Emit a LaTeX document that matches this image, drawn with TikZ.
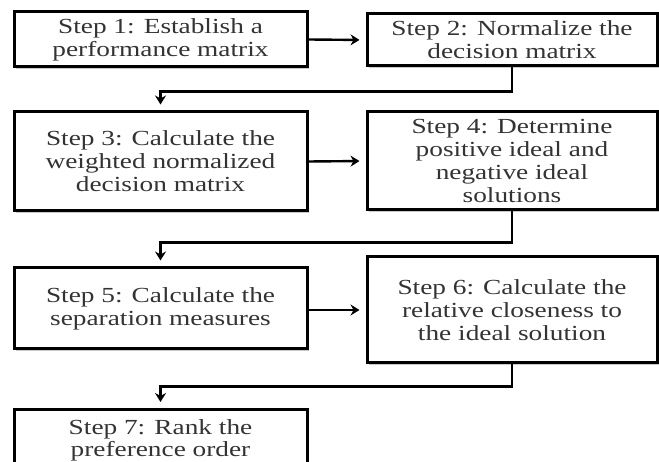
\documentclass[tikz,border=0pt]{standalone}
\usepackage{fontspec}
\setmainfont{Liberation Serif}[FakeStretch=1.27]
\usetikzlibrary{shadows,arrows.meta}
\begin{document}
\begin{tikzpicture}[x=1pt,y=-1pt,
  stepbox/.style={draw=black,line width=3pt,fill=white,align=center,
    text=black!80,font=\fontsize{21.5}{23}\selectfont,inner sep=0pt,
    drop shadow={shadow xshift=2pt,shadow yshift=-2.5pt,opacity=0.35,fill=black!60}},
  conn/.style={draw=black,line width=2.4pt,-{Stealth[length=9pt,width=11pt,inset=3pt]},shorten >=6pt}]
\useasboundingbox (0,0) rectangle (659,462);
\clip (0,0) rectangle (659,462);
\node[stepbox,minimum width=293pt,minimum height=55pt] (b1) at (160.5,39.5) {Step 1: Establish a\\performance matrix};
\node[stepbox,minimum width=290pt,minimum height=52pt] (b2) at (512,40) {Step 2: Normalize the\\decision matrix};
\node[stepbox,minimum width=293pt,minimum height=99pt] (b3) at (160.5,161.5) {Step 3: Calculate the\\weighted normalized\\decision matrix};
\node[stepbox,minimum width=290pt,minimum height=98pt] (b4) at (512,161) {Step 4: Determine\\positive ideal and\\negative ideal\\solutions};
\node[stepbox,minimum width=293pt,minimum height=81pt] (b5) at (160.5,308.5) {Step 5: Calculate the\\separation measures};
\node[stepbox,minimum width=290pt,minimum height=106pt] (b6) at (512,310) {Step 6: Calculate the\\relative closeness to\\the ideal solution};
\node[stepbox,minimum width=293pt,minimum height=64pt,anchor=north] (b7) at (160.5,408) {\raisebox{19pt}{\begin{tabular}{@{}c@{}}Step 7: Rank the\\[-1pt]preference order\end{tabular}}};
\draw[conn] (b1.east) -- (b2.west);
\draw[conn] (b3.east) -- (b4.west);
\draw[conn] (b5.east |- 0,310) -- (b6.west |- 0,310);
\draw[conn] (b2.south) -- ++(0,24) -| (b3.north);
\draw[conn] (b4.south) -- ++(0,31) -| (b5.north);
\draw[conn] (b6.south) -- ++(0,22) -| (b7.north);
\end{tikzpicture}
\end{document}
